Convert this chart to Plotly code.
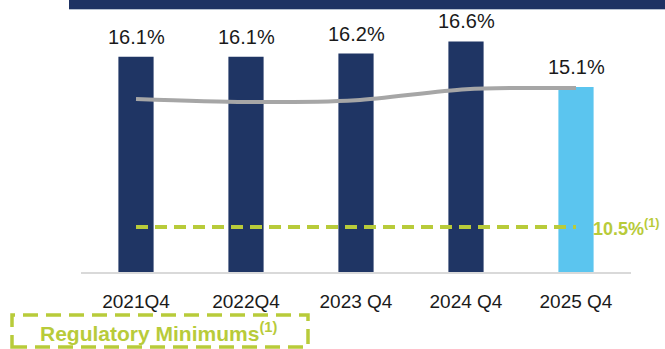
import plotly.graph_objects as go

# Capital ratio by year-end quarter
categories = ["2021Q4", "2022Q4", "2023 Q4", "2024 Q4", "2025 Q4"]
ratio = [16.1, 16.1, 16.2, 16.6, 15.1]
peer_avg = [14.71, 14.61, 14.67, 15.03, 15.07]
regulatory_min = [10.5, 10.5, 10.5, 10.5, 10.5]

NAVY = "#1f3564"
SKY = "#5bc5ef"
LIME = "#b8cb3a"
GREY = "#a6a6a6"
FONT = "Arial, Liberation Sans, sans-serif"

W, H = 665, 349
L, R, T, B = 81, 34, 10, 77
PLOT_H = H - T - B


def px_x(p):
    return (p - L) / (W - L - R)


def px_y(p):
    return (H - B - p) / PLOT_H


bar_colors = [NAVY] * (len(categories) - 1) + [SKY]

fig = go.Figure()
fig.add_trace(go.Bar(
    x=categories, y=ratio, marker=dict(color=bar_colors, line=dict(width=0)),
    hoverinfo="skip", showlegend=False,
))
fig.add_trace(go.Scatter(
    x=categories, y=peer_avg, mode="lines",
    line=dict(color=GREY, width=4, shape="spline", smoothing=0.8),
    hoverinfo="skip", showlegend=False,
))
fig.add_trace(go.Scatter(
    x=categories, y=regulatory_min, mode="lines",
    line=dict(color=LIME, width=4, dash="12px,7px"),
    hoverinfo="skip", showlegend=False,
))

annotations = []
for c, v in zip(categories, ratio):
    annotations.append(dict(
        x=c, y=v, xref="x", yref="y", text=f"{v:.1f}%", showarrow=False,
        yanchor="bottom", yshift=7, font=dict(family=FONT, size=20, color="#1a1a1a"),
    ))
annotations.append(dict(
    x=categories[-1], y=regulatory_min[-1], xref="x", yref="y",
    text=f"<b>{regulatory_min[-1]:.1f}%<sup>(1)</sup></b>", showarrow=False,
    xanchor="left", yanchor="middle", xshift=15, yshift=-1,
    font=dict(family=FONT, size=18, color=LIME),
))
annotations.append(dict(
    x=px_x(158), y=px_y(332), xref="paper", yref="paper",
    text="<b>Regulatory Minimums<sup>(1)</sup></b>", showarrow=False,
    xanchor="center", yanchor="middle",
    font=dict(family=FONT, size=21, color=LIME),
))

shapes = [
    # header band
    dict(type="rect", xref="paper", yref="paper",
         x0=px_x(69), x1=px_x(670), y0=px_y(9), y1=px_y(-2),
         fillcolor="#1e3263", line=dict(width=0), layer="above"),
    dict(type="line", xref="paper", yref="paper",
         x0=px_x(69), x1=px_x(670), y0=px_y(9.5), y1=px_y(9.5),
         line=dict(color="#b7c0d0", width=1)),
    # dashed legend box
    dict(type="rect", xref="paper", yref="paper",
         x0=px_x(12), x1=px_x(308), y0=px_y(347), y1=px_y(315),
         line=dict(color=LIME, width=3.5, dash="15px,8px"),
         fillcolor="rgba(0,0,0,0)"),
]

fig.update_layout(
    width=W, height=H,
    margin=dict(l=L, r=R, t=T, b=B, pad=0),
    paper_bgcolor="white", plot_bgcolor="white",
    bargap=0.68,
    font=dict(family=FONT),
    annotations=annotations,
    shapes=shapes,
    xaxis=dict(
        range=[-0.5, len(categories) - 0.5], autorange=False,
        showgrid=False, zeroline=False, showline=True,
        linecolor="#d9d9d9", linewidth=2, ticks="",
        tickfont=dict(family=FONT, size=19, color="#1a1a1a"),
        ticklabelstandoff=11,
    ),
    yaxis=dict(
        range=[9.02, 9.02 + PLOT_H / 30.42],
        showgrid=False, zeroline=False, showline=False,
        showticklabels=False, ticks="",
    ),
)

fig.write_html("out.html")
